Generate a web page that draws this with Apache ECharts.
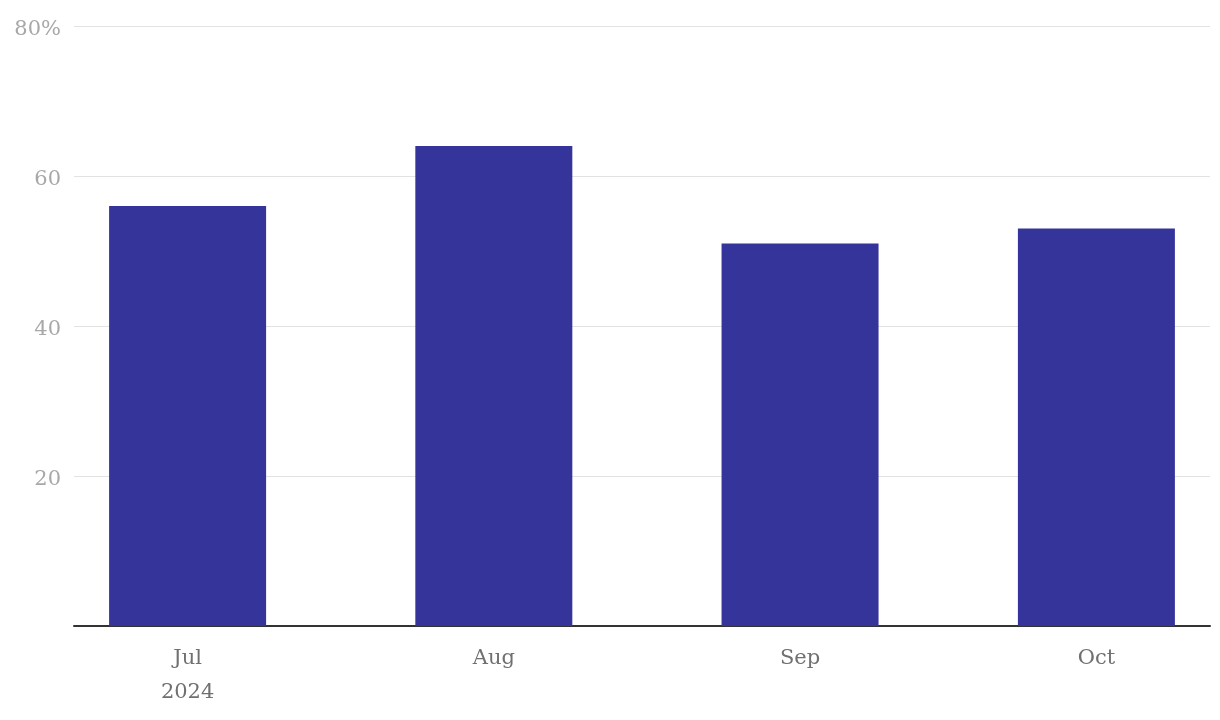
<!DOCTYPE html>
<html><head><meta charset="utf-8">
<script src="https://cdn.jsdelivr.net/npm/echarts@6/dist/echarts.min.js"></script>
<style>html,body{margin:0;padding:0;background:#fff}#c{width:1220px;height:720px}</style>
</head><body><div id="c"></div>
<script>
const months = ['2024-07-01','2024-08-01','2024-09-01','2024-10-01'];
const monthLabels = ['Jul\n2024','Aug','Sep','Oct'];
const values = [56, 64, 51, 53];
const yTicks = [0, 20, 40, 60, 80];

function toTime(s){const p=s.split('-');return new Date(+p[0],+p[1]-1,+p[2]).getTime();}
const times = months.map(toTime);
const DAY = 86400000;
// ECharts widens a time axis holding bars by the bar width; pre-shrink so the final
// axis shows 11.5 days of padding on each side of the first and last month.
const GRID_W = 1220 - 74 - 10, BAR_W = 157, PAD_DAYS = 11.5;
const span = times[times.length-1] - times[0];
const desired = span + 2*PAD_DAYS*DAY;
const preRange = desired * (1 - BAR_W/GRID_W);
const preMargin = (preRange - span)/2;

const chart = echarts.init(document.getElementById('c'));
chart.setOption({
  animation:false,
  grid:{left:74,right:10,top:26,bottom:94,containLabel:false},
  xAxis:{
    type:'time',
    min: times[0]-preMargin,
    max: times[times.length-1]+preMargin,
    minInterval: 28*DAY,
    maxInterval: 31*DAY,
    axisLine:{show:true,lineStyle:{color:'#333',width:2}},
    axisTick:{show:false},
    splitLine:{show:false},
    axisLabel:{
      formatter:function(v){
        const d=new Date(v);
        if(d.getDate()!==1) return '';
        for(let i=0;i<times.length;i++){const t=new Date(times[i]);if(t.getMonth()===d.getMonth()&&t.getFullYear()===d.getFullYear())return monthLabels[i];}
        return '';
      },
      color:'#707070',fontFamily:'DejaVu Serif',fontSize:21,lineHeight:34,margin:16,
      showMinLabel:false,showMaxLabel:false
    }
  },
  yAxis:{
    type:'value',min:0,max:80,interval:20,
    axisLine:{show:false},axisTick:{show:false},
    splitLine:{lineStyle:{color:'#e2e2e2',width:1}},
    axisLabel:{
      formatter:function(v){const s=v===80?'80%':(v===0?'':String(v));return s?'{v|'+s+'}':'';},
      color:'#a8a8a8',fontFamily:'DejaVu Serif',fontSize:21,margin:13,
      rich:{v:{color:'#a8a8a8',fontFamily:'DejaVu Serif',fontSize:21,padding:[7,0,0,0]}}
    }
  },
  series:[{
    type:'bar',
    data: times.map((t,i)=>[t,values[i]]),
    barWidth:BAR_W,
    itemStyle:{color:'#35349a'}
  }]
});
</script></body></html>
